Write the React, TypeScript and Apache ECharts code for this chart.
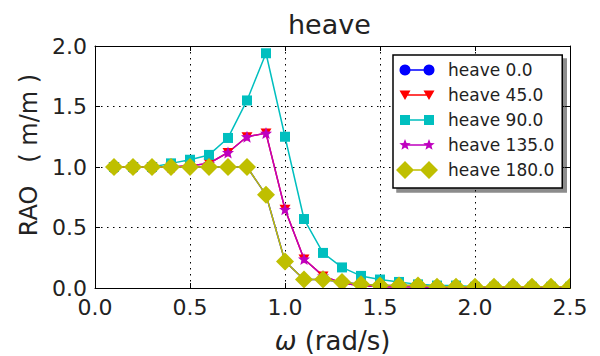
import React, { useEffect, useRef } from "react";
import * as echarts from "echarts";

const omega = [0.1, 0.2, 0.3, 0.4, 0.5, 0.6, 0.7, 0.8, 0.9, 1.0, 1.1, 1.2, 1.3, 1.4, 1.5, 1.6, 1.7, 1.8, 1.9, 2.0, 2.1, 2.2, 2.3, 2.4, 2.5];
const seriesNames = ["heave 0.0", "heave 45.0", "heave 90.0", "heave 135.0", "heave 180.0"];
const heave0 = [1.0, 1.0, 1.0, 1.0, 1.0, 1.0, 1.0, 1.0, 0.77, 0.22, 0.07, 0.07, 0.05, 0.03, 0.02, 0.02, 0.02, 0.01, 0.01, 0.01, 0.01, 0.01, 0.01, 0.01, 0.01];
const heave45 = [1.0, 1.0, 1.0, 1.0, 1.01, 1.03, 1.12, 1.25, 1.28, 0.65, 0.24, 0.1, 0.04, 0.02, 0.01, 0.01, 0.01, 0.0, 0.0, 0.0, 0.0, 0.0, 0.0, 0.0, 0.0];
const heave90 = [1.0, 1.0, 1.0, 1.03, 1.06, 1.1, 1.24, 1.55, 1.94, 1.25, 0.57, 0.29, 0.17, 0.1, 0.07, 0.05, 0.03, 0.02, 0.02, 0.01, 0.01, 0.01, 0.01, 0.01, 0.01];
const heave135 = [1.0, 1.0, 1.0, 1.0, 1.01, 1.03, 1.12, 1.25, 1.28, 0.65, 0.24, 0.1, 0.04, 0.02, 0.01, 0.01, 0.01, 0.0, 0.0, 0.0, 0.0, 0.0, 0.0, 0.0, 0.0];
const heave180 = [1.0, 1.0, 1.0, 1.0, 1.0, 1.0, 1.0, 1.0, 0.77, 0.22, 0.07, 0.07, 0.05, 0.03, 0.02, 0.02, 0.02, 0.01, 0.01, 0.01, 0.01, 0.01, 0.01, 0.01, 0.01];
const seriesValues = [heave0, heave45, heave90, heave135, heave180];

const xMin = 0, xMax = 2.5, xStep = 0.5;
const yMin = 0, yMax = 2.0, yStep = 0.5;
const titleText = "heave";
const xName = "{w|ω} (rad/s)";
const yName = "RAO   ( m/m )";

const colors = ["#0000ff", "#ff0000", "#00bfbf", "#bf00bf", "#bfbf00"];
const FONT = "DejaVu Sans";

function poly(pts: number[][]) {
  return "M" + pts.map((p) => p[0].toFixed(2) + " " + p[1].toFixed(2)).join(" L") + " Z";
}
function starPts(cx: number, cy: number, R: number, r: number) {
  const pts: number[][] = [];
  for (let k = 0; k < 10; k++) {
    const a = (-90 + k * 36) * Math.PI / 180;
    const rr = k % 2 === 0 ? R : r;
    pts.push([cx + rr * Math.cos(a), cy + rr * Math.sin(a)]);
  }
  return pts;
}
function circlePts(cx: number, cy: number, r: number) {
  const pts: number[][] = [];
  for (let k = 0; k < 28; k++) {
    const a = (-180 + k * (360 / 28)) * Math.PI / 180;
    pts.push([cx + r * Math.cos(a), cy + r * Math.sin(a)]);
  }
  return pts;
}

// legend icon geometry (style only)
const IW = 42, IH = 18, C1 = 9, C2 = 33, CY = 9;
const boxPts = "M0 0 L0.01 0 L0 0.01 Z M42 18 L41.99 18 L42 17.99 Z ";
const lineBar = poly([[C1, CY - 0.8], [C2, CY - 0.8], [C2, CY + 0.8], [C1, CY + 0.8]]);
const markerShape = [
  (c: number) => poly(circlePts(c, CY, 5.5)),
  (c: number) => poly([[c - 5.5, CY - 4.5], [c + 5.5, CY - 4.5], [c, CY + 5]]),
  (c: number) => poly([[c - 5, CY - 5], [c + 5, CY - 5], [c + 5, CY + 5], [c - 5, CY + 5]]),
  (c: number) => poly(starPts(c, CY, 6, 2.6)),
  (c: number) => poly([[c, CY - 9], [c + 9, CY], [c, CY + 9], [c - 9, CY]]),
];
const legendIcons = markerShape.map((f) => "path://" + boxPts + lineBar + " " + f(C1) + " " + f(C2));
const starSymbol = "path://" + poly(starPts(0, 0, 6, 2.6));

const symbols = ["circle", "triangle", "rect", starSymbol, "diamond"];
const symbolSizes: any[] = [10, [11, 9], 10, 12, 18];
const symbolRotates = [0, 180, 0, 0, 0];

export default function App() {
  const ref = useRef<HTMLDivElement>(null);
  useEffect(() => {
    if (!ref.current) return;
    const chart = echarts.init(ref.current, undefined, { renderer: "svg" });
    const gridLeft = 95, gridRight = 30, gridTop = 46, gridBottom = 68;
    chart.setOption({
      animation: false,
      backgroundColor: "#ffffff",
      title: {
        text: titleText,
        left: 283,
        top: 6,
        textStyle: { fontFamily: FONT, fontSize: 27, fontWeight: "normal", color: "#222" },
      },
      grid: { left: gridLeft, right: gridRight, top: gridTop, bottom: gridBottom, containLabel: false, outerBoundsMode: "none" },
      legend: {
        orient: "vertical",
        left: 393,
        top: 55,
        padding: [6, 8, 9, 3],
        itemGap: 7,
        itemWidth: IW,
        itemHeight: IH,
        backgroundColor: "#ffffff",
        borderColor: "#000000",
        borderWidth: 1.5,
        borderRadius: 0,
        shadowColor: "rgba(0,0,0,0.45)",
        shadowOffsetX: 4,
        shadowOffsetY: 4,
        shadowBlur: 0,
        selectedMode: false,
        textStyle: { fontFamily: FONT, fontSize: 17, color: "#222", padding: [0, 0, 0, 5] },
        data: seriesNames.map((n, i) => ({ name: n, icon: legendIcons[i] })),
      },
      xAxis: [
        {
          type: "value", min: xMin, max: xMax, interval: xStep, position: "bottom", z: 10,
          axisLine: { show: true, onZero: false, lineStyle: { color: "#000", width: 1 } },
          axisTick: { show: true, inside: true, length: 5, lineStyle: { color: "#000" } },
          axisLabel: { fontFamily: FONT, fontSize: 22, color: "#222", margin: 8, formatter: (v: number) => v.toFixed(1) },
          splitLine: { show: false },
          name: xName, nameLocation: "middle", nameGap: 40,
          nameTextStyle: { fontFamily: FONT, fontSize: 26, color: "#222", rich: { w: { fontFamily: FONT, fontSize: 26, fontStyle: "italic", color: "#222" } } },
        },
        {
          type: "value", min: xMin, max: xMax, interval: xStep, position: "top", z: 10,
          axisLine: { show: true, onZero: false, lineStyle: { color: "#000", width: 1 } },
          axisTick: { show: true, inside: true, length: 5, lineStyle: { color: "#000" } },
          axisLabel: { show: false }, splitLine: { show: false },
        },
        {
          type: "value", min: xMin, max: xMax, interval: xStep, position: "bottom", z: 0,
          axisLine: { show: false }, axisTick: { show: false }, axisLabel: { show: false },
          splitLine: { show: true, lineStyle: { color: "#000", width: 1, type: [1.5, 4.5] } },
        },
      ],
      yAxis: [
        {
          type: "value", min: yMin, max: yMax, interval: yStep, position: "left", z: 10,
          axisLine: { show: true, onZero: false, lineStyle: { color: "#000", width: 1 } },
          axisTick: { show: true, inside: true, length: 5, lineStyle: { color: "#000" } },
          axisLabel: { fontFamily: FONT, fontSize: 22, color: "#222", margin: 8, formatter: (v: number) => v.toFixed(1) },
          splitLine: { show: false },
          name: yName, nameLocation: "middle", nameGap: 54, nameRotate: 90,
          nameTextStyle: { fontFamily: FONT, fontSize: 24, color: "#222", padding: [0, 0, 0, 24] },
        },
        {
          type: "value", min: yMin, max: yMax, interval: yStep, position: "right", z: 10,
          axisLine: { show: true, onZero: false, lineStyle: { color: "#000", width: 1 } },
          axisTick: { show: true, inside: true, length: 5, lineStyle: { color: "#000" } },
          axisLabel: { show: false }, splitLine: { show: false },
        },
        {
          type: "value", min: yMin, max: yMax, interval: yStep, position: "left", z: 0,
          axisLine: { show: false }, axisTick: { show: false }, axisLabel: { show: false },
          splitLine: { show: true, lineStyle: { color: "#000", width: 1, type: [1.5, 4.5] } },
        },
      ],
      graphic: [
        { type: "rect", z: 5, silent: true, shape: { x: 80, y: 289, width: 520, height: 12 }, style: { fill: "#ffffff" } },
        { type: "rect", z: 5, silent: true, shape: { x: 571, y: 40, width: 29, height: 260 }, style: { fill: "#ffffff" } },
      ],
      series: seriesNames.map((n, i) => ({
        name: n,
        type: "line",
        xAxisIndex: 0,
        yAxisIndex: 0,
        data: omega.map((x, j) => [x, seriesValues[i][j]]),
        symbol: symbols[i],
        symbolSize: symbolSizes[i],
        symbolRotate: symbolRotates[i],
        showSymbol: true,
        showAllSymbol: true,
        clip: true,
        lineStyle: { color: colors[i], width: 1.5 },
        itemStyle: { color: colors[i] },
        emphasis: { disabled: true },
      })),
    });
    return () => chart.dispose();
  }, []);
  return <div ref={ref} style={{ position: "fixed", left: 0, top: 0, width: 600, height: 356 }} />;
}
